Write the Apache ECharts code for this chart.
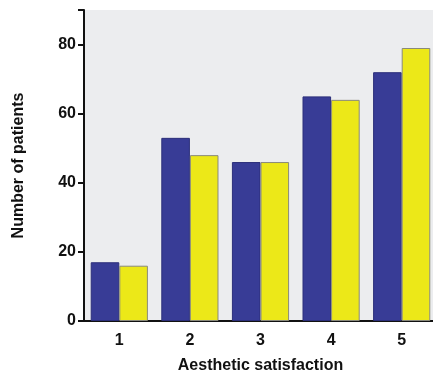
<!DOCTYPE html>
<html><head><meta charset="utf-8">
<script src="https://cdn.jsdelivr.net/npm/echarts@6/dist/echarts.min.js"></script>
<style>html,body{margin:0;padding:0;background:#fff}#c{width:433px;height:379px}</style>
</head><body><div id="c"></div>
<script>
const categories = ['1','2','3','4','5'];
const seriesA = [17, 53, 46, 65, 72];
const seriesB = [16, 48, 46, 64, 79];
const yTicks = [0, 20, 40, 60, 80];

const chart = echarts.init(document.getElementById('c'));
const font = 'Liberation Sans, Arial, sans-serif';
chart.setOption({
  animation: false,
  grid: { left: 84, right: -4, top: 10, bottom: 58, show: true, backgroundColor: '#ECEDEF', borderWidth: 0,
          containLabel: false, outerBoundsMode: 'none' },
  xAxis: {
    type: 'category', data: categories,
    name: 'Aesthetic satisfaction', nameLocation: 'middle', nameGap: 37,
    nameTextStyle: { fontFamily: font, fontWeight: 'bold', fontSize: 16, color: '#111' },
    axisLine: { lineStyle: { color: '#111', width: 2 } },
    axisTick: { alignWithLabel: true, length: 6, lineStyle: { color: '#111', width: 2 } },
    axisLabel: { fontFamily: font, fontWeight: 'bold', fontSize: 16, color: '#111', margin: 12 }
  },
  yAxis: {
    type: 'value', min: 0, max: 90, interval: 20,
    name: 'Number of patients', nameLocation: 'middle', nameGap: 57,
    nameTextStyle: { fontFamily: font, fontWeight: 'bold', fontSize: 16, color: '#111' },
    axisLine: { show: true, lineStyle: { color: '#111', width: 2 } },
    axisTick: { show: true, length: 6, lineStyle: { color: '#111', width: 2 } },
    axisLabel: { fontFamily: font, fontWeight: 'bold', fontSize: 16, color: '#111', margin: 8,
      formatter: v => yTicks.includes(v) ? String(v) : '' },
    splitLine: { show: false }
  },
  series: [
    { type: 'bar', data: seriesA, barGap: '0%', barCategoryGap: '19%',
      itemStyle: { color: '#383C96', borderColor: '#2c2f7a', borderWidth: 1 } },
    { type: 'bar', data: seriesB,
      itemStyle: { color: '#ECE818', borderColor: '#8a8a7a', borderWidth: 1 } }
  ]
});
</script></body></html>
